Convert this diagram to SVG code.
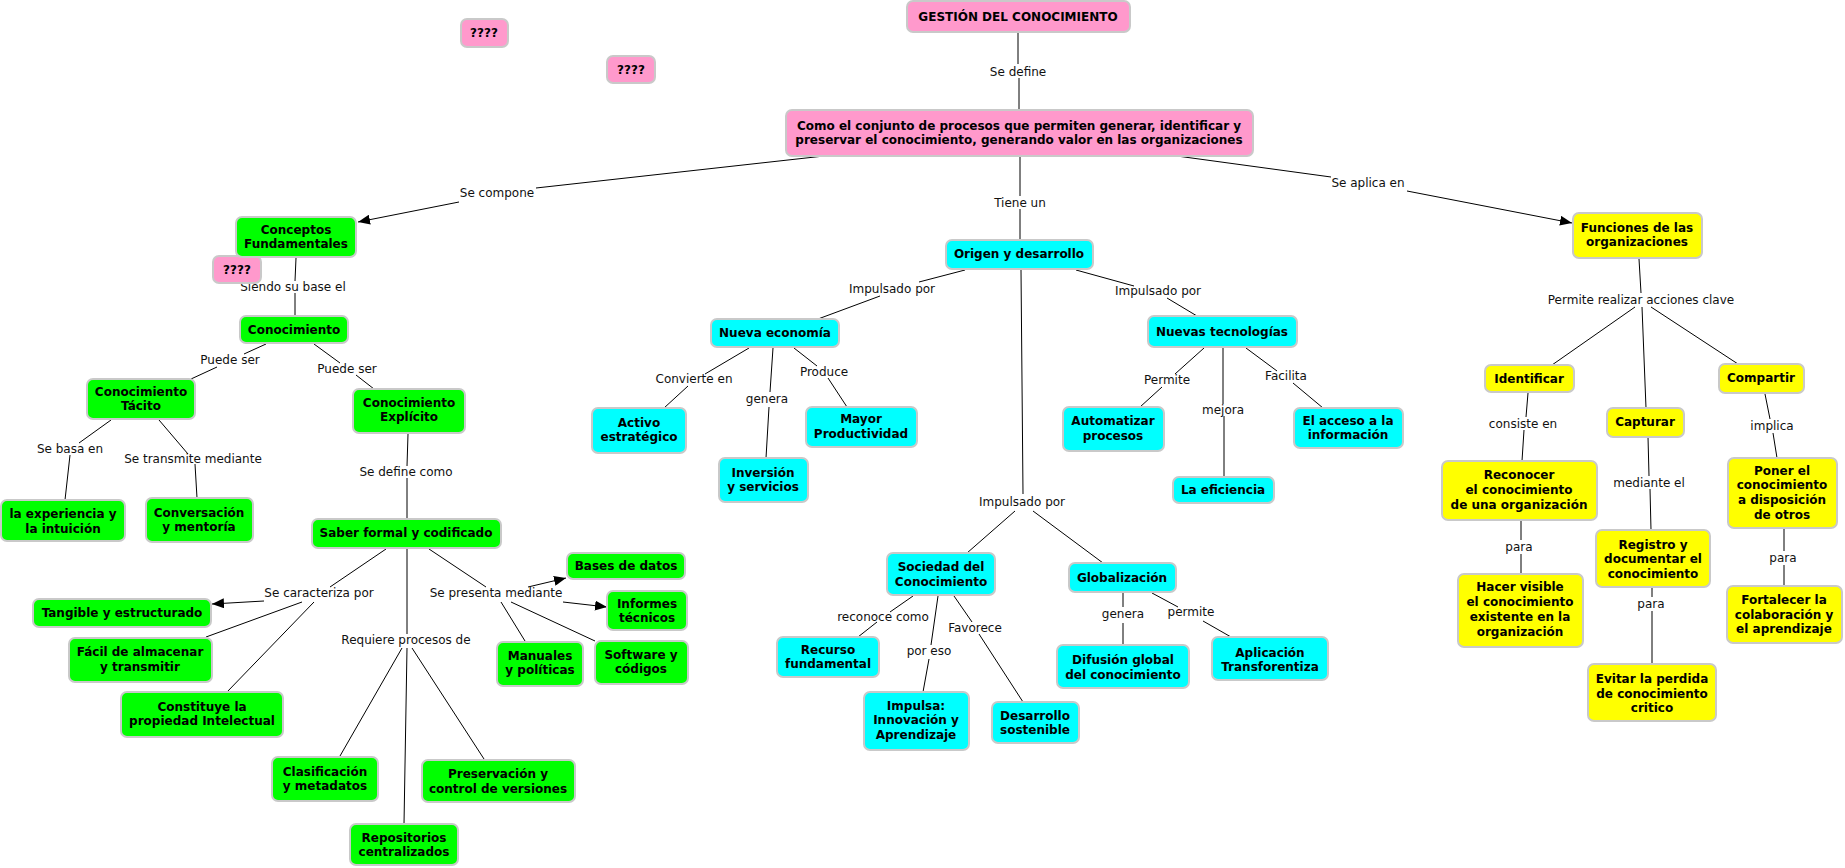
<svg xmlns="http://www.w3.org/2000/svg" width="1845" height="868" viewBox="0 0 1845 868">
<defs>
<marker id="arr" viewBox="0 0 12 10" refX="12" refY="5" markerWidth="12" markerHeight="10" markerUnits="userSpaceOnUse" orient="auto"><path d="M0,0 L12,5 L0,10 Z" fill="#000"/></marker>
<style>
.n rect{stroke:#c9c9c9;stroke-width:2}
.pk rect{fill:#ff99cc}
.gr rect{fill:#00ff00}
.cy rect{fill:#00ffff}
.ye rect{fill:#ffff00}
.n text{font-family:"DejaVu Sans",Verdana,sans-serif;font-weight:bold;font-size:12px;fill:#000;text-anchor:middle}
.lb{font-family:"DejaVu Sans",Verdana,sans-serif;font-size:12px;fill:#111;text-anchor:middle}
#connectors line{stroke:#000;stroke-width:1}
.a{marker-end:url(#arr)}
</style>
</defs>
<rect width="1845" height="868" fill="#fff"/>
<g id="connectors">
<line x1="1018" y1="32" x2="1018" y2="64"/><line x1="1019" y1="78" x2="1019" y2="110"/>
<line x1="824" y1="156" x2="536" y2="188"/><line class="a" x1="459" y1="202" x2="358" y2="222"/>
<line x1="1020" y1="156" x2="1020" y2="196"/><line x1="1020" y1="209" x2="1020" y2="240"/>
<line x1="1177" y1="156" x2="1331" y2="177"/><line class="a" x1="1407" y1="191" x2="1572" y2="223"/>
<line x1="296" y1="258" x2="295" y2="281"/><line x1="295" y1="293" x2="295" y2="316"/>
<line x1="266" y1="344" x2="244" y2="354"/><line x1="217" y1="367" x2="191" y2="379"/>
<line x1="314" y1="344" x2="340" y2="363"/><line x1="356" y1="375" x2="374" y2="389"/>
<line x1="111" y1="420" x2="79" y2="443"/><line x1="70" y1="455" x2="65" y2="500"/>
<line x1="159" y1="420" x2="188" y2="454"/><line x1="195" y1="464" x2="197" y2="498"/>
<line x1="408" y1="434" x2="407" y2="466"/><line x1="407" y1="478" x2="407" y2="519"/>
<line x1="386" y1="549" x2="330" y2="587"/><line class="a" x1="264" y1="601" x2="212" y2="604"/><line x1="302" y1="602" x2="206" y2="637"/><line x1="314" y1="602" x2="227" y2="692"/>
<line x1="407" y1="549" x2="407" y2="634"/><line x1="402" y1="648" x2="340" y2="756"/><line x1="407" y1="648" x2="404" y2="824"/><line x1="412" y1="648" x2="484" y2="759"/>
<line x1="429" y1="549" x2="486" y2="587"/><line class="a" x1="528" y1="587" x2="566" y2="578"/><line class="a" x1="563" y1="602" x2="607" y2="607"/><line x1="501" y1="602" x2="525" y2="641"/><line x1="511" y1="602" x2="595" y2="641"/>
<line x1="965" y1="270" x2="919" y2="282"/><line x1="880" y1="296" x2="818" y2="319"/>
<line x1="1076" y1="270" x2="1134" y2="286"/><line x1="1167" y1="298" x2="1197" y2="316"/>
<line x1="1021" y1="270" x2="1023" y2="494"/><line x1="1015" y1="511" x2="967" y2="553"/><line x1="1033" y1="511" x2="1103" y2="563"/>
<line x1="749" y1="348" x2="705" y2="374"/><line x1="688" y1="386" x2="664" y2="408"/>
<line x1="773" y1="348" x2="770" y2="392"/><line x1="769" y1="407" x2="766" y2="458"/>
<line x1="794" y1="348" x2="817" y2="366"/><line x1="828" y1="378" x2="847" y2="407"/>
<line x1="1204" y1="348" x2="1175" y2="374"/><line x1="1162" y1="387" x2="1140" y2="407"/>
<line x1="1223" y1="348" x2="1223" y2="404"/><line x1="1224" y1="416" x2="1224" y2="477"/>
<line x1="1246" y1="348" x2="1277" y2="371"/><line x1="1293" y1="383" x2="1323" y2="408"/>
<line x1="913" y1="596" x2="890" y2="612"/><line x1="877" y1="622" x2="858" y2="637"/>
<line x1="938" y1="596" x2="931" y2="645"/><line x1="929" y1="659" x2="923" y2="692"/>
<line x1="954" y1="596" x2="972" y2="622"/><line x1="979" y1="634" x2="1023" y2="702"/>
<line x1="1123" y1="593" x2="1123" y2="607"/><line x1="1123" y1="623" x2="1123" y2="645"/>
<line x1="1152" y1="593" x2="1178" y2="607"/><line x1="1203" y1="621" x2="1231" y2="637"/>
<line x1="1639" y1="259" x2="1641" y2="293"/><line x1="1635" y1="307" x2="1552" y2="365"/><line x1="1642" y1="307" x2="1646" y2="408"/><line x1="1651" y1="307" x2="1738" y2="364"/>
<line x1="1528" y1="393" x2="1526" y2="417"/><line x1="1524" y1="430" x2="1522" y2="461"/>
<line x1="1521" y1="521" x2="1521" y2="540"/><line x1="1521" y1="554" x2="1521" y2="574"/>
<line x1="1648" y1="437" x2="1649" y2="476"/><line x1="1650" y1="489" x2="1651" y2="530"/>
<line x1="1652" y1="588" x2="1652" y2="597"/><line x1="1652" y1="611" x2="1652" y2="664"/>
<line x1="1765" y1="394" x2="1770" y2="419"/><line x1="1773" y1="433" x2="1777" y2="458"/>
<line x1="1784" y1="529" x2="1784" y2="551"/><line x1="1784" y1="565" x2="1784" y2="586"/>
</g>
<g id="labels">
<text class="lb" x="1018" y="76">Se define</text>
<text class="lb" x="497" y="197">Se compone</text>
<text class="lb" x="1020" y="207">Tiene un</text>
<text class="lb" x="1368" y="187">Se aplica en</text>
<text class="lb" x="293" y="291">Siendo su base el</text>
<text class="lb" x="230" y="364">Puede ser</text>
<text class="lb" x="347" y="373">Puede ser</text>
<text class="lb" x="70" y="453">Se basa en</text>
<text class="lb" x="193" y="463">Se transmite mediante</text>
<text class="lb" x="406" y="476">Se define como</text>
<text class="lb" x="319" y="597">Se caracteriza por</text>
<text class="lb" x="406" y="644">Requiere procesos de</text>
<text class="lb" x="496" y="597">Se presenta mediante</text>
<text class="lb" x="892" y="293">Impulsado por</text>
<text class="lb" x="1158" y="295">Impulsado por</text>
<text class="lb" x="1022" y="506">Impulsado por</text>
<text class="lb" x="694" y="383">Convierte en</text>
<text class="lb" x="767" y="403">genera</text>
<text class="lb" x="824" y="376">Produce</text>
<text class="lb" x="1167" y="384">Permite</text>
<text class="lb" x="1223" y="414">mejora</text>
<text class="lb" x="1286" y="380">Facilita</text>
<text class="lb" x="883" y="621">reconoce como</text>
<text class="lb" x="929" y="655">por eso</text>
<text class="lb" x="975" y="632">Favorece</text>
<text class="lb" x="1123" y="618">genera</text>
<text class="lb" x="1191" y="616">permite</text>
<text class="lb" x="1641" y="304">Permite realizar acciones clave</text>
<text class="lb" x="1523" y="428">consiste en</text>
<text class="lb" x="1519" y="551">para</text>
<text class="lb" x="1649" y="487">mediante el</text>
<text class="lb" x="1651" y="608">para</text>
<text class="lb" x="1772" y="430">implica</text>
<text class="lb" x="1783" y="562">para</text>
</g>
<g id="gestion" class="n pk"><rect x="907" y="1" width="223" height="31" rx="6"/><text x="1018" y="21">GESTIÓN DEL CONOCIMIENTO</text></g>
<g id="q1" class="n pk"><rect x="461" y="19" width="47" height="28" rx="6"/><text x="484" y="37">????</text></g>
<g id="q2" class="n pk"><rect x="607" y="56" width="48" height="27" rx="6"/><text x="631" y="74">????</text></g>
<g id="q3" class="n pk"><rect x="213" y="256" width="48" height="27" rx="6"/><text x="237" y="274">????</text></g>
<g id="definicion" class="n pk"><rect x="786" y="110" width="467" height="46" rx="6"/><text><tspan x="1019" y="130">Como el conjunto de procesos que permiten generar, identificar y</tspan><tspan x="1019" y="144">preservar el conocimiento, generando valor en las organizaciones</tspan></text></g>
<g id="conceptos" class="n gr"><rect x="236" y="217" width="120" height="40" rx="6"/><text><tspan x="296" y="234">Conceptos</tspan><tspan x="296" y="248">Fundamentales</tspan></text></g>
<g id="conocimiento" class="n gr"><rect x="240" y="316" width="108" height="27" rx="6"/><text x="294" y="334">Conocimiento</text></g>
<g id="tacito" class="n gr"><rect x="87" y="379" width="108" height="40" rx="6"/><text><tspan x="141" y="396">Conocimiento</tspan><tspan x="141" y="410">Tácito</tspan></text></g>
<g id="explicito" class="n gr"><rect x="353" y="389" width="112" height="44" rx="6"/><text><tspan x="409" y="407">Conocimiento</tspan><tspan x="409" y="421">Explícito</tspan></text></g>
<g id="experiencia" class="n gr"><rect x="1" y="500" width="124" height="41" rx="6"/><text><tspan x="63" y="518">la experiencia y</tspan><tspan x="63" y="533">la intuición</tspan></text></g>
<g id="conversacion" class="n gr"><rect x="146" y="498" width="107" height="44" rx="6"/><text><tspan x="199" y="517">Conversación</tspan><tspan x="199" y="531">y mentoría</tspan></text></g>
<g id="saber" class="n gr"><rect x="312" y="519" width="189" height="29" rx="6"/><text x="406" y="537">Saber formal y codificado</text></g>
<g id="tangible" class="n gr"><rect x="33" y="599" width="178" height="28" rx="6"/><text x="122" y="617">Tangible y estructurado</text></g>
<g id="facil" class="n gr"><rect x="69" y="638" width="143" height="44" rx="6"/><text><tspan x="140" y="656">Fácil de almacenar</tspan><tspan x="140" y="671">y transmitir</tspan></text></g>
<g id="constituye" class="n gr"><rect x="121" y="692" width="162" height="45" rx="6"/><text><tspan x="202" y="711">Constituye la</tspan><tspan x="202" y="725">propiedad Intelectual</tspan></text></g>
<g id="clasificacion" class="n gr"><rect x="272" y="757" width="106" height="44" rx="6"/><text><tspan x="325" y="776">Clasificación</tspan><tspan x="325" y="790">y metadatos</tspan></text></g>
<g id="repositorios" class="n gr"><rect x="350" y="824" width="108" height="41" rx="6"/><text><tspan x="404" y="842">Repositorios</tspan><tspan x="404" y="856">centralizados</tspan></text></g>
<g id="preservacion" class="n gr"><rect x="422" y="760" width="153" height="42" rx="6"/><text><tspan x="498" y="778">Preservación y</tspan><tspan x="498" y="793">control de versiones</tspan></text></g>
<g id="bases" class="n gr"><rect x="567" y="553" width="118" height="26" rx="6"/><text x="626" y="570">Bases de datos</text></g>
<g id="informes" class="n gr"><rect x="607" y="591" width="80" height="39" rx="6"/><text><tspan x="647" y="608">Informes</tspan><tspan x="647" y="622">técnicos</tspan></text></g>
<g id="manuales" class="n gr"><rect x="497" y="642" width="86" height="44" rx="6"/><text><tspan x="540" y="660">Manuales</tspan><tspan x="540" y="674">y políticas</tspan></text></g>
<g id="software" class="n gr"><rect x="595" y="641" width="93" height="43" rx="6"/><text><tspan x="641" y="659">Software y</tspan><tspan x="641" y="673">códigos</tspan></text></g>
<g id="origen" class="n cy"><rect x="946" y="240" width="147" height="29" rx="6"/><text x="1019" y="258">Origen y desarrollo</text></g>
<g id="nueva-economia" class="n cy"><rect x="711" y="319" width="128" height="28" rx="6"/><text x="775" y="337">Nueva economía</text></g>
<g id="activo" class="n cy"><rect x="592" y="408" width="94" height="45" rx="6"/><text><tspan x="639" y="427">Activo</tspan><tspan x="639" y="441">estratégico</tspan></text></g>
<g id="inversion" class="n cy"><rect x="719" y="458" width="89" height="44" rx="6"/><text><tspan x="763" y="477">Inversión</tspan><tspan x="763" y="491">y servicios</tspan></text></g>
<g id="mayor" class="n cy"><rect x="806" y="407" width="111" height="40" rx="6"/><text><tspan x="861" y="423">Mayor</tspan><tspan x="861" y="438">Productividad</tspan></text></g>
<g id="nuevas-tecnologias" class="n cy"><rect x="1148" y="316" width="149" height="31" rx="6"/><text x="1222" y="336">Nuevas tecnologías</text></g>
<g id="automatizar" class="n cy"><rect x="1063" y="407" width="101" height="44" rx="6"/><text><tspan x="1113" y="425">Automatizar</tspan><tspan x="1113" y="440">procesos</tspan></text></g>
<g id="eficiencia" class="n cy"><rect x="1173" y="477" width="101" height="26" rx="6"/><text x="1223" y="494">La eficiencia</text></g>
<g id="acceso" class="n cy"><rect x="1294" y="408" width="109" height="40" rx="6"/><text><tspan x="1348" y="425">El acceso a la</tspan><tspan x="1348" y="439">información</tspan></text></g>
<g id="sociedad" class="n cy"><rect x="887" y="553" width="108" height="42" rx="6"/><text><tspan x="941" y="571">Sociedad del</tspan><tspan x="941" y="586">Conocimiento</tspan></text></g>
<g id="recurso" class="n cy"><rect x="777" y="637" width="102" height="40" rx="6"/><text><tspan x="828" y="654">Recurso</tspan><tspan x="828" y="668">fundamental</tspan></text></g>
<g id="impulsa" class="n cy"><rect x="864" y="692" width="105" height="58" rx="6"/><text><tspan x="916" y="710">Impulsa:</tspan><tspan x="916" y="724">Innovación y</tspan><tspan x="916" y="739">Aprendizaje</tspan></text></g>
<g id="desarrollo" class="n cy"><rect x="992" y="702" width="87" height="41" rx="6"/><text><tspan x="1035" y="720">Desarrollo</tspan><tspan x="1035" y="734">sostenible</tspan></text></g>
<g id="globalizacion" class="n cy"><rect x="1069" y="563" width="107" height="29" rx="6"/><text x="1122" y="582">Globalización</text></g>
<g id="difusion" class="n cy"><rect x="1057" y="645" width="132" height="43" rx="6"/><text><tspan x="1123" y="664">Difusión global</tspan><tspan x="1123" y="679">del conocimiento</tspan></text></g>
<g id="aplicacion" class="n cy"><rect x="1212" y="637" width="116" height="43" rx="6"/><text><tspan x="1270" y="657">Aplicación</tspan><tspan x="1270" y="671">Transforentiza</tspan></text></g>
<g id="funciones" class="n ye"><rect x="1573" y="213" width="129" height="45" rx="6"/><text><tspan x="1637" y="232">Funciones de las</tspan><tspan x="1637" y="246">organizaciones</tspan></text></g>
<g id="identificar" class="n ye"><rect x="1485" y="365" width="89" height="27" rx="6"/><text x="1529" y="383">Identificar</text></g>
<g id="capturar" class="n ye"><rect x="1607" y="408" width="77" height="29" rx="6"/><text x="1645" y="426">Capturar</text></g>
<g id="compartir" class="n ye"><rect x="1719" y="364" width="85" height="29" rx="6"/><text x="1761" y="382">Compartir</text></g>
<g id="reconocer" class="n ye"><rect x="1442" y="461" width="155" height="59" rx="6"/><text><tspan x="1519" y="479">Reconocer</tspan><tspan x="1519" y="494">el conocimiento</tspan><tspan x="1519" y="509">de una organización</tspan></text></g>
<g id="hacer-visible" class="n ye"><rect x="1458" y="574" width="125" height="73" rx="6"/><text><tspan x="1520" y="591">Hacer visible</tspan><tspan x="1520" y="606">el conocimiento</tspan><tspan x="1520" y="621">existente en la</tspan><tspan x="1520" y="636">organización</tspan></text></g>
<g id="registro" class="n ye"><rect x="1596" y="530" width="114" height="57" rx="6"/><text><tspan x="1653" y="549">Registro y</tspan><tspan x="1653" y="563">documentar el</tspan><tspan x="1653" y="578">conocimiento</tspan></text></g>
<g id="evitar" class="n ye"><rect x="1588" y="664" width="128" height="57" rx="6"/><text><tspan x="1652" y="683">Evitar la perdida</tspan><tspan x="1652" y="698">de conocimiento</tspan><tspan x="1652" y="712">critico</tspan></text></g>
<g id="poner" class="n ye"><rect x="1728" y="458" width="109" height="70" rx="6"/><text><tspan x="1782" y="475">Poner el</tspan><tspan x="1782" y="489">conocimiento</tspan><tspan x="1782" y="504">a disposición</tspan><tspan x="1782" y="519">de otros</tspan></text></g>
<g id="fortalecer" class="n ye"><rect x="1727" y="586" width="115" height="57" rx="6"/><text><tspan x="1784" y="604">Fortalecer la</tspan><tspan x="1784" y="619">colaboración y</tspan><tspan x="1784" y="633">el aprendizaje</tspan></text></g>
</svg>
